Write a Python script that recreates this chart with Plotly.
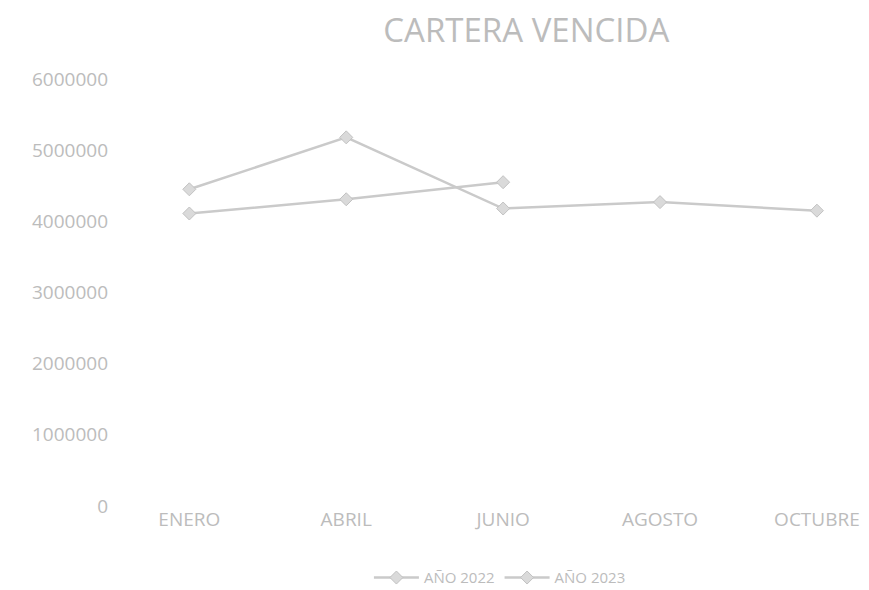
import plotly.graph_objects as go

months = ["ENERO", "ABRIL", "JUNIO", "AGOSTO", "OCTUBRE"]
y2022 = [4450000, 5180000, 4180000, 4270000, 4150000]
y2023 = [4110000, 4310000, 4550000]
y_ticks = [0, 1000000, 2000000, 3000000, 4000000, 5000000, 6000000]

gray_line = "#cacaca"
gray_text = "#bcbcbc"
font_family = "Open Sans, Lato, sans-serif"

fig = go.Figure()
fig.add_trace(go.Scatter(
    x=months, y=y2022, name="AÑO 2022", mode="lines+markers",
    line=dict(color=gray_line, width=2.5),
    marker=dict(symbol="diamond", size=10, color="#dadada",
                line=dict(color="#c2c2c2", width=1)),
))
fig.add_trace(go.Scatter(
    x=months[:len(y2023)], y=y2023, name="AÑO 2023", mode="lines+markers",
    line=dict(color=gray_line, width=2.5),
    marker=dict(symbol="diamond", size=10, color="#dadada",
                line=dict(color="#c2c2c2", width=1)),
))

fig.update_layout(
    width=861, height=582,
    paper_bgcolor="white", plot_bgcolor="white",
    margin=dict(l=117, r=10, t=71, b=84),
    title=dict(text="CARTERA VENCIDA", x=0.602, xanchor="center", y=0.962, yanchor="middle",
               font=dict(family=font_family, size=33, color=gray_text)),
    font=dict(family=font_family, color=gray_text),
    showlegend=True,
    legend=dict(orientation="h", x=0.515, xanchor="center",
                yref="container", y=0.021, yanchor="middle",
                font=dict(size=15, color=gray_text), itemwidth=45),
    xaxis=dict(type="category", categoryorder="array", categoryarray=months,
               range=[-0.41, 4.23], showgrid=False, showline=False, zeroline=False,
               ticks="", tickfont=dict(size=19, color=gray_text), ticklabelstandoff=0),
    yaxis=dict(range=[0, 6000000], tickvals=y_ticks, ticktext=[str(v) for v in y_ticks],
               showgrid=False, zeroline=False, showline=False, ticks="",
               tickfont=dict(size=19, color=gray_text), ticklabelstandoff=16),
)

fig.write_html("out.html")
